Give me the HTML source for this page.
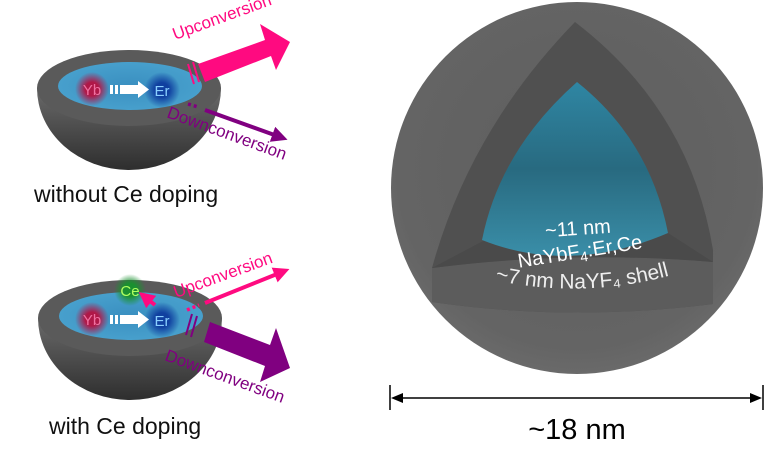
<!DOCTYPE html>
<html><head><meta charset="utf-8"><style>
html,body{margin:0;padding:0;background:#fff;}
svg{display:block;font-family:"Liberation Sans","DejaVu Sans",sans-serif;}
</style></head><body>
<svg width="765" height="472" viewBox="0 0 765 472" xmlns="http://www.w3.org/2000/svg">
<defs>
<radialGradient id="sph" cx="0.5" cy="0.45" r="0.6">
<stop offset="0" stop-color="#5e5e5e"/><stop offset="0.8" stop-color="#646464"/><stop offset="1" stop-color="#6e6e6e"/>
</radialGradient>
<linearGradient id="core" x1="0" y1="0" x2="0" y2="1">
<stop offset="0" stop-color="#2f86a3"/><stop offset="0.5" stop-color="#286a80"/><stop offset="1" stop-color="#3a8ea8"/>
</linearGradient>
<linearGradient id="bowl" x1="0" y1="0" x2="0" y2="1">
<stop offset="0" stop-color="#6a6a6a"/><stop offset="1" stop-color="#2e2e2e"/>
</linearGradient>
<radialGradient id="inner" cx="0.5" cy="0.5" r="0.6">
<stop offset="0" stop-color="#3a8fc0"/><stop offset="1" stop-color="#4aa3cf"/>
</radialGradient>
<radialGradient id="yb"><stop offset="0.4" stop-color="#b01848"/><stop offset="1" stop-color="#b01848" stop-opacity="0"/></radialGradient>
<radialGradient id="er"><stop offset="0.4" stop-color="#1040a0"/><stop offset="1" stop-color="#1040a0" stop-opacity="0"/></radialGradient>
<radialGradient id="ce"><stop offset="0.4" stop-color="#1a9030"/><stop offset="1" stop-color="#1a9030" stop-opacity="0"/></radialGradient>
<marker id="ah" viewBox="0 0 10 10" refX="5" refY="5" markerWidth="4" markerHeight="4" orient="auto"><path d="M0,0L10,5L0,10z" fill="context-stroke"/></marker>
<path id="shellarc" d="M452,268 Q580,312 712,262"/>
</defs>

<!-- big sphere -->
<circle cx="577" cy="188" r="186" fill="url(#sph)"/>
<path d="M575,22 Q470,130 432,268 L432,302 Q570,322 713,304 L713,250 Q690,110 575,22 Z" fill="#505050"/>
<path d="M432,268 Q570,250 713,262 L713,304 Q570,322 432,302 Z" fill="#5c5c5c"/>
<path d="M432,268 L485,240 Q570,272 668,233 L713,262 Q570,250 432,268Z" fill="#4a4a4a"/>
<path d="M577,82 Q500,150 482,240 Q570,275 668,233 Q650,140 577,82 Z" fill="url(#core)"/>
<text x="578" y="235" text-anchor="middle" fill="#fff" font-size="20" transform="rotate(-4 578 230)">~11 nm</text>
<text x="580" y="258" text-anchor="middle" fill="#fff" font-size="20" transform="rotate(-9 580 252)">NaYbF<tspan font-size="14" dy="4">4</tspan><tspan dy="-4">:Er,Ce</tspan></text>
<text fill="#eee" font-size="21"><textPath href="#shellarc" startOffset="50%" text-anchor="middle">~7 nm NaYF₄ shell</textPath></text>

<!-- dimension -->
<line x1="390" y1="385" x2="390" y2="410" stroke="#000" stroke-width="1.5"/>
<line x1="763" y1="385" x2="763" y2="410" stroke="#000" stroke-width="1.5"/>
<line x1="396" y1="398" x2="757" y2="398" stroke="#000" stroke-width="1.5"/>
<path d="M391,398 L403,393 L403,403Z" fill="#000"/>
<path d="M762,398 L750,393 L750,403Z" fill="#000"/>
<text x="577" y="439" text-anchor="middle" font-size="29" fill="#000">~18 nm</text>

<!-- bowl 1 -->
<g>
<path d="M37,88 A92,82 0 0 0 221,88 Z" fill="url(#bowl)"/>
<ellipse cx="129" cy="88" rx="92" ry="38" fill="#5a5a5a"/>
<ellipse cx="130" cy="86" rx="72" ry="24" fill="url(#inner)"/>
<circle cx="92" cy="89" r="17" fill="url(#yb)"/>
<circle cx="162" cy="90" r="18" fill="url(#er)"/>
<text x="92" y="95" text-anchor="middle" fill="#f070a0" font-size="15">Yb</text>
<text x="162" y="96" text-anchor="middle" fill="#8ad0ff" font-size="15">Er</text>
<rect x="110" y="85" width="3" height="9" fill="#fff"/><rect x="115" y="85" width="3" height="9" fill="#fff"/>
<path d="M120,85 L138,85 L138,81 L149,89.5 L138,98 L138,94 L120,94Z" fill="#fff"/>
<path d="M198,64 L265,40 L260,24 L290,42 L276,70 L271,56 L205,82Z" fill="#ff0a80"/>
<line x1="188" y1="64" x2="194" y2="84" stroke="#ff0a80" stroke-width="2"/>
<line x1="193" y1="62" x2="199" y2="82" stroke="#ff0a80" stroke-width="2"/>
<text x="175" y="40" fill="#ff0a80" font-size="17" transform="rotate(-20 175 40)">Upconversion</text>
<line x1="188" y1="104" x2="198" y2="107" stroke="#800080" stroke-width="3.5" stroke-dasharray="3,3"/>
<line x1="205" y1="110" x2="280" y2="137" stroke="#800080" stroke-width="4" marker-end="url(#ah)"/>
<text x="166" y="117" fill="#800080" font-size="17" transform="rotate(20 166 117)">Downconversion</text>
<text x="34" y="202" font-size="23" fill="#111">without Ce doping</text>
</g>

<!-- bowl 2 -->
<g>
<path d="M38,318 A92,82 0 0 0 222,318 Z" fill="url(#bowl)"/>
<ellipse cx="130" cy="318" rx="92" ry="38" fill="#5a5a5a"/>
<ellipse cx="131" cy="316" rx="72" ry="24" fill="url(#inner)"/>
<circle cx="130" cy="290" r="16" fill="url(#ce)"/>
<circle cx="92" cy="319" r="17" fill="url(#yb)"/>
<circle cx="162" cy="320" r="18" fill="url(#er)"/>
<text x="130" y="296" text-anchor="middle" fill="#b0ff60" font-size="15">Ce</text>
<text x="92" y="325" text-anchor="middle" fill="#f070a0" font-size="15">Yb</text>
<text x="162" y="326" text-anchor="middle" fill="#8ad0ff" font-size="15">Er</text>
<rect x="110" y="315" width="3" height="9" fill="#fff"/><rect x="115" y="315" width="3" height="9" fill="#fff"/>
<path d="M120,315 L138,315 L138,311 L149,319.5 L138,328 L138,324 L120,324Z" fill="#fff"/>
<line x1="155" y1="305" x2="145" y2="297" stroke="#ff0a80" stroke-width="4" marker-end="url(#ah)"/>
<line x1="187" y1="310" x2="199" y2="305" stroke="#ff0a80" stroke-width="3.5" stroke-dasharray="3,3"/>
<line x1="205" y1="303" x2="282" y2="272" stroke="#ff0a80" stroke-width="4" marker-end="url(#ah)"/>
<text x="176" y="298" fill="#ff0a80" font-size="17" transform="rotate(-20 176 298)">Upconversion</text>
<path d="M210,322 L270,345 L276,328 L290,368 L260,382 L265,366 L204,342Z" fill="#800080"/>
<line x1="192" y1="314" x2="186" y2="335" stroke="#800080" stroke-width="2"/>
<line x1="197" y1="316" x2="191" y2="337" stroke="#800080" stroke-width="2"/>
<text x="164" y="360" fill="#800080" font-size="17" transform="rotate(20 164 360)">Downconversion</text>
<text x="49" y="434" font-size="23" fill="#111">with Ce doping</text>
</g>
</svg>
</body></html>
